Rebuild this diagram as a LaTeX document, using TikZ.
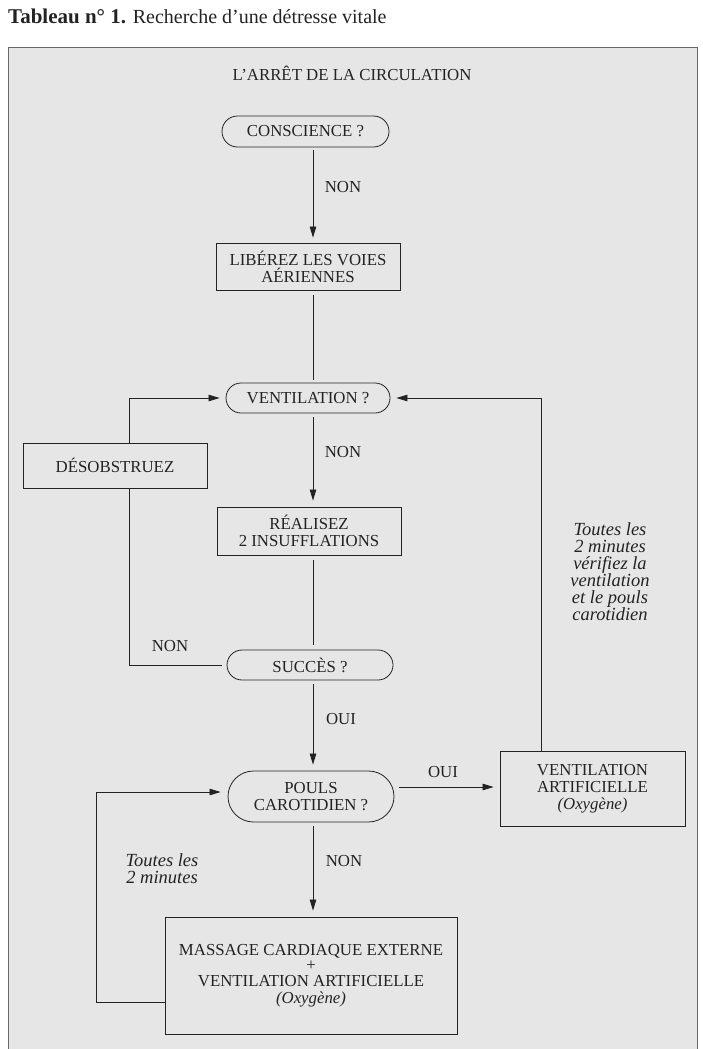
\documentclass[tikz,border=0pt]{standalone}
\usepackage{fontspec}
\setmainfont{Liberation Serif}
\usetikzlibrary{arrows.meta,shapes.misc}
\definecolor{bg}{RGB}{230,230,230}
\definecolor{ink}{RGB}{35,35,35}
\definecolor{frameline}{RGB}{105,105,105}
\begin{document}
\begin{tikzpicture}[x=1pt,y=-1pt,
  every node/.style={text=ink, font=\fontsize{16.8}{17}\selectfont, inner sep=0pt, align=center},
  boxnode/.style={draw=ink, line width=0.8pt, rectangle},
  roundnode/.style={draw=ink, line width=0.8pt, rounded rectangle},
  link/.style={draw=ink, line width=0.75pt},
  arrowlink/.style={link, -{Triangle[length=11pt,width=6.5pt]}},
  note/.style={font=\fontsize{18.5}{17}\selectfont\itshape}
]
\useasboundingbox (0,0) rectangle (702,1049);
\clip (0,0) rectangle (702,1049);
% frame
\fill[bg] (8,48) rectangle (697,1100);
\draw[frameline, line width=1pt] (8,1100) -- (8,48) -- (697,48) -- (697,1100);
% title
\node[anchor=west, font=\fontsize{20}{21}\selectfont] (title) at (8,16)
  {{\fontsize{21}{21}\selectfont\bfseries Tableau n° 1.} Recherche d’une détresse vitale};
\node (header) at (352,73) {L’ARRÊT DE LA CIRCULATION};
% spine coordinates
\coordinate (sx) at (313,0);
\coordinate (lx) at (129,0);
\coordinate (rx) at (541,0);
\coordinate (oy) at (0,787);
\coordinate (lb) at (96,1002);
\coordinate (lt) at (96,792);
% nodes
\node[roundnode, minimum width=167pt, minimum height=31pt] (consc) at (305.5,131.5) {CONSCIENCE ?};
\node[boxnode, minimum width=184pt, minimum height=47pt] (libere) at (308,266.5) {LIBÉREZ LES VOIES\\AÉRIENNES};
\node[roundnode, minimum width=164pt, minimum height=30pt] (vent) at (308,398) {VENTILATION ?};
\node[boxnode, minimum width=184pt, minimum height=45pt] (desob) at (115,465.5) {DÉSOBSTRUEZ};
\node[boxnode, minimum width=184pt, minimum height=48pt] (realise) at (309,531) {RÉALISEZ\\2 INSUFFLATIONS};
\node[roundnode, minimum width=166pt, minimum height=30pt] (succes) at (310,665) {SUCCÈS ?};
\node[roundnode, minimum width=166pt, minimum height=51pt] (pouls) at (311,796.5) {POULS\\CAROTIDIEN ?};
\node[boxnode, minimum width=185pt, minimum height=75pt] (ventart) at (592.5,788.5) {VENTILATION\\ARTIFICIELLE\\\textit{(Oxygène)}};
\node[boxnode, minimum width=292pt, minimum height=117pt] (massage) at (311,975.5)
  {MASSAGE CARDIAQUE EXTERNE\\[-2pt]+\\[-1pt]VENTILATION ARTIFICIELLE\\\textit{(Oxygène)}};
% labels
\node (l1) at (343,187) {NON};
\node (l2) at (343,452) {NON};
\node (l3) at (170,646) {NON};
\node (l4) at (341,719) {OUI};
\node (l5) at (443,772) {OUI};
\node (l6) at (344,861) {NON};
\node[note] (n1) at (610,572) {Toutes les\\2 minutes\\vérifiez la\\ventilation\\et le pouls\\carotidien};
\node[note] (n2) at (162,869) {Toutes les\\2 minutes};
% connectors
\draw[arrowlink, shorten <=3pt, shorten >=5pt] (consc.south -| sx) -- (libere.north -| sx);
\draw[link, shorten <=5pt, shorten >=3pt] (libere.south -| sx) -- (vent.north -| sx);
\draw[arrowlink, shorten <=4pt, shorten >=6pt] (vent.south -| sx) -- (realise.north -| sx);
\draw[link, shorten <=5pt, shorten >=5pt] (realise.south -| sx) -- (succes.north -| sx);
\draw[arrowlink, shorten <=4pt, shorten >=6pt] (succes.south -| sx) -- (pouls.north -| sx);
\draw[arrowlink, shorten <=4pt, shorten >=6pt] (pouls.south -| sx) -- (massage.north -| sx);
\draw[arrowlink, shorten <=5pt, shorten >=6pt] (pouls.east |- oy) -- (ventart.west |- oy);
\draw[arrowlink, shorten >=6pt] (desob.north -| lx) |- (vent.west);
\draw[arrowlink, shorten >=6pt] (ventart.north -| rx) |- (vent.east);
\draw[link, shorten <=5pt] (succes.west) -| (desob.south -| lx);
\draw[arrowlink, shorten >=7pt] (massage.west |- lb) -- (lb) -- (lt) -- (pouls.west |- lt);
\end{tikzpicture}
\end{document}
